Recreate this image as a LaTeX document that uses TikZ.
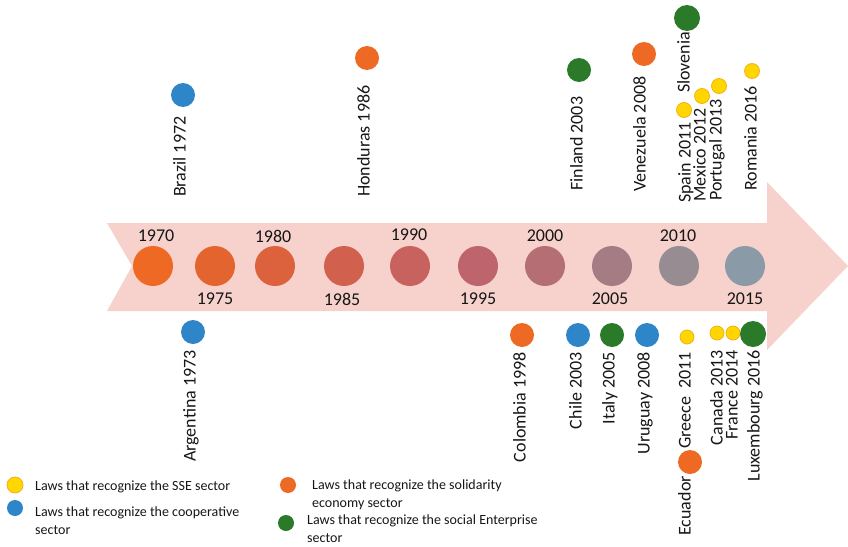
\documentclass[tikz,border=0pt]{standalone}
\usepackage{fontspec}
\setmainfont{Carlito}
\usepackage{xcolor}
\usetikzlibrary{calc}

\definecolor{bandpink}{RGB}{247,210,204}
\definecolor{lawblue}{RGB}{46,134,201}
\definecolor{laworange}{RGB}{238,106,36}
\definecolor{lawgreen}{RGB}{42,122,42}
\definecolor{lawyellow}{RGB}{255,214,0}
\definecolor{yellowrim}{RGB}{244,176,20}
\definecolor{textgrey}{RGB}{22,22,22}

\definecolor{tl0}{RGB}{238,106,36}
\definecolor{tl1}{RGB}{228,100,48}
\definecolor{tl2}{RGB}{220,98,62}
\definecolor{tl3}{RGB}{210,96,78}
\definecolor{tl4}{RGB}{200,98,94}
\definecolor{tl5}{RGB}{190,100,108}
\definecolor{tl6}{RGB}{180,110,116}
\definecolor{tl7}{RGB}{166,124,132}
\definecolor{tl8}{RGB}{150,140,146}
\definecolor{tl9}{RGB}{138,154,166}

\tikzset{
  country/.style={rotate=90, inner sep=0pt, text height=0.72em, text depth=0.22em,
    font=\fontsize{18}{18}\selectfont, text=textgrey},
  upper/.style={country, anchor=west},
  lower/.style={country, anchor=east},
  yearlabel/.style={inner sep=0pt, font=\fontsize{18}{18}\selectfont, text=textgrey},
  legendtext/.style={anchor=west, inner sep=0pt, align=left,
    font=\fontsize{14}{18}\selectfont, text=textgrey},
  sse/.style={fill=lawyellow, draw=yellowrim, line width=0.8pt},
}

\begin{document}
\begin{tikzpicture}[x=1pt, y=-1pt]
  \useasboundingbox (0,0) rectangle (848,546);
  \def\ty{266}

  \fill[bandpink] (107,223) -- (767,223) -- (767,182) -- (848,\ty) -- (767,350)
    -- (767,311) -- (107,311) -- (132,\ty) -- cycle;

  \foreach \yr/\xx/\lx/\ly/\cl in {1970/153/156/236/tl0, 1975/215/215/299/tl1,
      1980/275/273/236/tl2, 1985/344/342/299/tl3, 1990/410/409/235/tl4,
      1995/478/478/299/tl5, 2000/545/545/236/tl6, 2005/612/610/299/tl7,
      2010/679/678/236/tl8, 2015/745/745/299/tl9} {
    \fill[\cl] (\xx,\ty) circle (20pt);
    \node[yearlabel] (y\yr) at (\lx,\ly) {\yr};
  }

  \begin{scope}
    \fill[lawblue] (183,95) circle (12pt);
    \node[upper] (brazil) at (183,197) {Brazil 1972};
    \fill[laworange] (367,58) circle (12pt);
    \node[upper] (honduras) at (367,197) {Honduras 1986};
    \fill[lawgreen] (579,70) circle (12pt);
    \node[upper] (finland) at (580,191) {Finland 2003};
    \fill[laworange] (644,54) circle (12pt);
    \node[upper] (venezuela) at (643,192) {Venezuela 2008};
    \filldraw[sse] (684,110) circle (7.5pt);
    \node[upper] (spain) at (688,203) {Spain 2011};
    \filldraw[sse] (702,96) circle (7.5pt);
    \node[upper] (mexico) at (703,202) {Mexico 2012};
    \filldraw[sse] (719,86) circle (7.5pt);
    \node[upper] (portugal) at (719,201) {Portugal 2013};
    \fill[lawgreen] (687,18) circle (13pt);
    \node[upper] (slovenia) at (687,93) {Slovenia};
    \filldraw[sse] (752,71) circle (7.5pt);
    \node[upper] (romania) at (754,191) {Romania 2016};
  \end{scope}

  \begin{scope}
    \fill[lawblue] (193,332) circle (12pt);
    \node[lower] (argentina) at (193,350) {Argentina 1973};
    \fill[laworange] (522,335) circle (12pt);
    \node[lower] (colombia) at (523,352) {Colombia 1998};
    \fill[lawblue] (578,335) circle (12pt);
    \node[lower] (chile) at (579,352) {Chile 2003};
    \fill[lawgreen] (612,335) circle (12pt);
    \node[lower] (italy) at (612,352) {Italy 2005};
    \fill[lawblue] (647,335) circle (12pt);
    \node[lower] (uruguay) at (647,352) {Uruguay 2008};
    \filldraw[sse] (687,337) circle (7pt);
    \node[lower] (greece) at (688,352) {Greece\ \ 2011};
    \fill[laworange] (690,462) circle (12pt);
    \node[lower] (ecuador) at (688,476) {Ecuador};
    \filldraw[sse] (717,333) circle (7pt);
    \node[lower] (canada) at (720,350) {Canada 2013};
    \filldraw[sse] (733,333) circle (7pt);
    \node[lower] (france) at (735,350) {France 2014};
    \fill[lawgreen] (753,334) circle (13pt);
    \node[lower] (luxembourg) at (757,350) {Luxembourg 2016};
  \end{scope}

  \begin{scope}
    \filldraw[sse] (15,485) circle (8pt);
    \node[legendtext] (legsse) at (35,487) {Laws that recognize the SSE sector};
    \fill[lawblue] (15,508) circle (8pt);
    \node[legendtext] (legcoop) at (35,521) {Laws that recognize the cooperative\\sector};
    \fill[laworange] (288,485) circle (8pt);
    \node[legendtext] (legsolid) at (312,495) {Laws that recognize the solidarity\\economy sector};
    \fill[lawgreen] (286,523) circle (8pt);
    \node[legendtext] (legsocial) at (307,529) {Laws that recognize the social Enterprise\\sector};
  \end{scope}
\end{tikzpicture}
\end{document}
